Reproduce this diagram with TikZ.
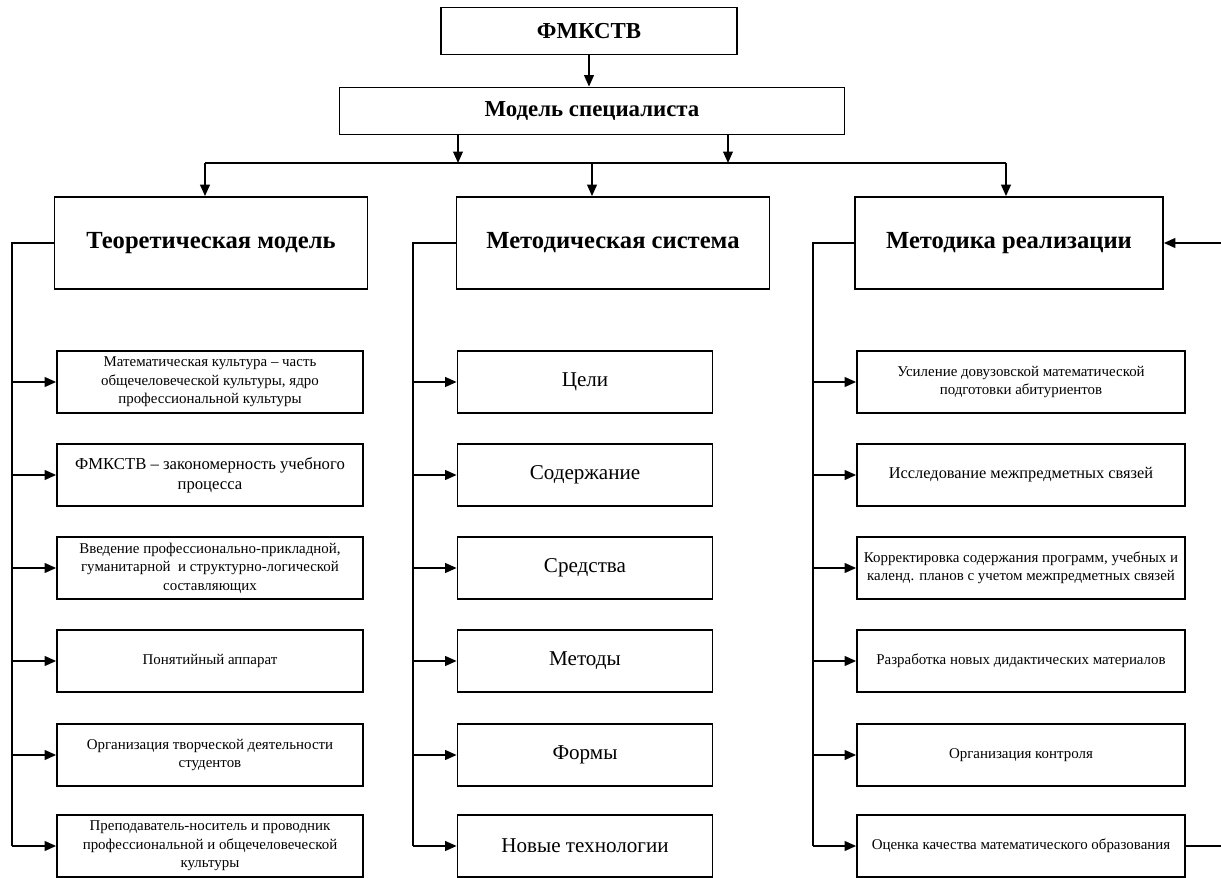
\documentclass[tikz,border=0pt]{standalone}
\usepackage{fontspec}
\setmainfont{Liberation Serif}
\usetikzlibrary{arrows.meta}

\begin{document}
\begin{tikzpicture}[x=0.02cm,y=-0.02cm]
\tikzstyle{box}=[rectangle,draw,line width=1pt,inner sep=2pt,align=center]
\tikzstyle{head}=[box,font=\fontsize{13}{15}\selectfont\bfseries]
\tikzstyle{big}=[box,minimum width=6.26cm,minimum height=1.84cm,font=\fontsize{14}{16}\selectfont\bfseries]
\tikzstyle{item}=[box,minimum height=1.24cm,font=\fontsize{8.5}{10.5}\selectfont]
\tikzstyle{part}=[box,minimum height=1.24cm,minimum width=5.1cm,font=\fontsize{12}{14}\selectfont]
\tikzstyle{line}=[line width=1pt]
\tikzstyle{arr}=[line,-{Triangle[length=6.5pt,width=5.5pt]}]

\useasboundingbox (0,0) rectangle (1221,878);

\node[head,minimum width=5.92cm,minimum height=0.94cm] (fm) at (589,31) {ФМКСТВ};
\node[head,minimum width=10.1cm,minimum height=0.94cm] (model) at (592,111) {Модель специалиста};
\draw[arr] (fm.south) -- (fm.south |- model.north);

\coordinate (m1) at (458,163);
\coordinate (m2) at (728,163);
\coordinate (busL) at (205,163);
\coordinate (busM) at (592,163);
\coordinate (busR) at (1006,163);
\draw[arr] (model.south -| m1) -- (m1);
\draw[arr] (model.south -| m2) -- (m2);
\draw[line] (busL) -- (busR);

\node[big] (theory) at (211,243) {Теоретическая модель};
\node[big] (system) at (613,243) {Методическая система};
\node[big,minimum width=6.16cm] (method) at (1009,243) {Методика реализации};
\draw[arr] (busL) -- (busL |- theory.north);
\draw[arr] (busM) -- (busM |- system.north);
\draw[arr] (busR) -- (busR |- method.north);

% theoretical model
\node[item,minimum width=6.12cm] (t1) at (210,382) {Математическая культура – часть\\общечеловеческой культуры, ядро\\профессиональной культуры};
\node[item,minimum width=6.12cm,font=\fontsize{9.5}{11.5}\selectfont] (t2) at (210,475) {ФМКСТВ – закономерность учебного\\процесса};
\node[item,minimum width=6.12cm] (t3) at (210,568) {Введение профессионально-прикладной,\\гуманитарной\ \ и структурно-логической\\составляющих};
\node[item,minimum width=6.12cm] (t4) at (210,661) {Понятийный аппарат};
\node[item,minimum width=6.12cm] (t5) at (210,755) {Организация творческой деятельности\\студентов};
\node[item,minimum width=6.12cm] (t6) at (210,846) {Преподаватель-носитель и проводник\\профессиональной и общечеловеческой\\культуры};

% methodical system
\node[part] (s1) at (585,382) {Цели};
\node[part] (s2) at (585,475) {Содержание};
\node[part] (s3) at (585,568) {Средства};
\node[part] (s4) at (585,661) {Методы};
\node[part] (s5) at (585,755) {Формы};
\node[part] (s6) at (585,846) {Новые технологии};

% realisation
\node[item,minimum width=6.56cm] (r1) at (1021,382) {Усиление довузовской математической\\подготовки абитуриентов};
\node[item,minimum width=6.56cm,font=\fontsize{9.3}{11}\selectfont] (r2) at (1021,475) {Исследование межпредметных связей};
\node[item,minimum width=6.56cm] (r3) at (1021,568) {Корректировка содержания программ, учебных и\\календ. планов с учетом межпредметных связей};
\node[item,minimum width=6.56cm] (r4) at (1021,661) {Разработка новых дидактических материалов};
\node[item,minimum width=6.56cm] (r5) at (1021,755) {Организация контроля};
\node[item,minimum width=6.56cm] (r6) at (1021,846) {Оценка качества математического образования};

\coordinate (lbus) at (12,243);
\coordinate (mbus) at (413,243);
\coordinate (rbus) at (813,243);
\draw[line] (theory.west) -- (lbus) -- (lbus |- t6.west);
\draw[line] (system.west) -- (mbus) -- (mbus |- s6.west);
\draw[line] (method.west) -- (rbus) -- (rbus |- r6.west);
\foreach \i in {1,...,6} {
  \draw[arr] (lbus |- t\i.west) -- (t\i.west);
  \draw[arr] (mbus |- s\i.west) -- (s\i.west);
  \draw[arr] (rbus |- r\i.west) -- (r\i.west);
}

\coordinate (fb) at (1224,846);
\draw[arr] (r6.east) -- (fb) |- (method.east);

\end{tikzpicture}
\end{document}
